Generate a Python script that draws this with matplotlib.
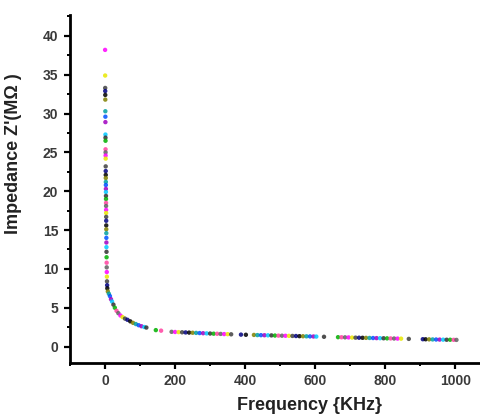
import matplotlib
matplotlib.use('Agg')
import matplotlib.pyplot as plt
from matplotlib.ticker import MultipleLocator

# frequency (KHz) and impedance Z' (MOhm)
freq_low = [0.2, 0.4, 0.5, 0.6, 0.7, 0.8, 0.9, 1.0, 1.1, 1.2, 1.3, 1.4, 1.5, 1.6,
            1.7, 1.8, 1.9, 2.0, 2.1, 2.2, 2.3, 2.4, 2.5, 2.6, 2.7, 2.8, 2.9, 3.0,
            3.1, 3.2, 3.3, 3.4, 3.5, 3.6, 3.7, 3.8, 3.9, 4.0, 4.2, 4.4, 4.6, 4.8,
            5.0, 5.3, 5.6, 6.0, 6.5]
z_low = [38.2, 34.9, 33.3, 32.9, 32.4, 31.8, 30.3, 29.6, 28.9, 27.3, 26.9, 26.5,
         25.4, 25.0, 24.6, 24.2, 23.2, 22.6, 22.1, 21.7, 21.2, 20.8, 20.3, 19.9,
         19.4, 19.0, 18.5, 18.1, 17.6, 17.2, 16.7, 16.2, 15.6, 15.1, 14.6, 14.0,
         13.4, 12.8, 12.2, 11.5, 10.8, 10.2, 9.6, 9.0, 8.4, 7.9, 7.5]

freq_knee = [8, 11, 14, 17, 20, 24, 28, 33, 38, 44, 50, 57, 64, 72, 80, 88, 96,
             104, 112, 118]
z_knee = [7.1, 6.8, 6.5, 6.1, 5.8, 5.4, 5.0, 4.6, 4.3, 4.0, 3.8, 3.6, 3.45, 3.25,
          3.05, 2.9, 2.75, 2.62, 2.52, 2.45]

freq_high = [145, 160,
             190, 200, 210, 220, 230, 240, 250, 260, 270, 280, 290, 300, 310, 320,
             330, 340, 350, 360,
             388, 402,
             425, 435, 445, 455, 465, 475, 485, 495, 505, 515, 525, 535, 545, 555,
             565, 575, 585, 595, 603,
             625,
             665, 675, 685, 695, 705, 715, 725, 735, 745, 755, 765, 775, 785, 795,
             805, 815, 825, 835, 845,
             867,
             907, 915, 925, 935, 945, 955, 965, 975, 985, 995, 1003]
z_high = [2.12, 2.05,
          1.90, 1.88, 1.86, 1.84, 1.82, 1.80, 1.78, 1.76, 1.74, 1.72, 1.70, 1.68,
          1.66, 1.65, 1.63, 1.61, 1.60, 1.58,
          1.54, 1.52,
          1.50, 1.48, 1.47, 1.46, 1.45, 1.44, 1.42, 1.41, 1.40, 1.39, 1.38, 1.37,
          1.36, 1.34, 1.33, 1.32, 1.31, 1.30, 1.29,
          1.26,
          1.21, 1.20, 1.19, 1.18, 1.16, 1.15, 1.14, 1.13, 1.12, 1.11, 1.10, 1.09,
          1.08, 1.07, 1.06, 1.05, 1.04, 1.03, 1.02,
          0.99,
          0.95, 0.94, 0.93, 0.92, 0.91, 0.90, 0.89, 0.88, 0.88, 0.87, 0.86]

freq = freq_low + freq_knee + freq_high
z = z_low + z_knee + z_high

# Origin-like colour increment
palette = ['#ff00ff', '#e8e800', '#404040', '#000080', '#000000', '#808000',
           '#00a0a0', '#0050ff', '#a000c0', '#00c8ff', '#303030', '#00b000',
           '#ff40a0', '#606060']
colors = [palette[i % len(palette)] for i in range(len(freq))]

plt.rcParams['font.family'] = ['Liberation Sans', 'DejaVu Sans']
plt.rcParams['font.weight'] = 'bold'

fig = plt.figure(figsize=(4.81, 4.15), dpi=100)
ax = fig.add_axes([0.1455, 0.1265, 0.853, 0.8375])

ax.scatter(freq, z, s=10, c=colors, marker='o', linewidths=0, alpha=0.85)

ax.set_xlim(-100, 1071)
ax.set_ylim(-2.05, 42.7)
ax.xaxis.set_major_locator(MultipleLocator(200))
ax.xaxis.set_minor_locator(MultipleLocator(100))
ax.yaxis.set_major_locator(MultipleLocator(5))
ax.yaxis.set_minor_locator(MultipleLocator(2.5))

for side in ['top', 'right']:
    ax.spines[side].set_visible(False)
for side in ['left', 'bottom']:
    ax.spines[side].set_linewidth(2)

ax.tick_params(which='major', direction='out', length=4.5, width=1.6,
               labelsize=10, labelcolor='#3a3a3a', pad=4)
ax.tick_params(which='minor', direction='out', length=2.5, width=1.4)
for lab in ax.get_xticklabels() + ax.get_yticklabels():
    lab.set_fontweight('bold')

ax.set_xlabel('Frequency {KHz}', fontsize=13, fontweight='bold', color='#222222')
ax.set_ylabel("Impedance Z'(M\u03a9 )", fontsize=13, fontweight='bold',
              color='#222222')
ax.xaxis.set_label_coords(0.584, -0.10)
ax.yaxis.set_label_coords(-0.117, 0.602)

fig.savefig('out.png', dpi=100)
